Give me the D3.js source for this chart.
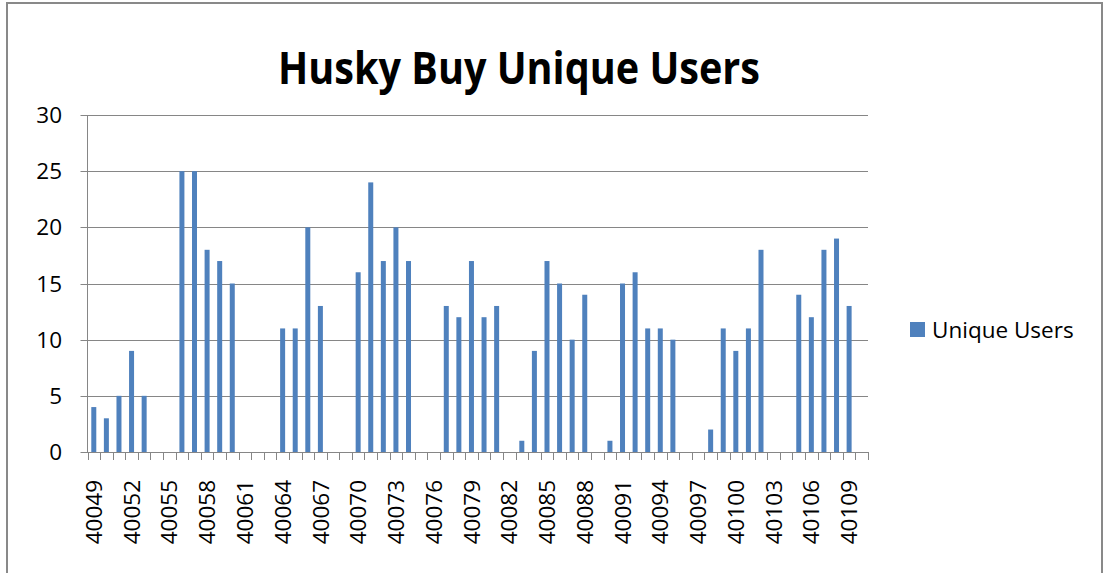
<!DOCTYPE html>
<html>
<head>
<meta charset="utf-8">
<script src="https://cdn.jsdelivr.net/npm/d3@7"></script>
<style>
  body { margin: 0; background: #fff; }
  svg { display: block; font-family: "Open Sans", sans-serif; }
</style>
</head>
<body>
<svg id="chart" width="1104" height="573"></svg>
<script>
// day numbers shown on the x axis (40049 .. 40110)
const days = d3.range(40049, 40111);

// unique users per day
const users = [
  4, 3, 5, 9, 5, 0, 0, 25, 25, 18,
  17, 15, 0, 0, 0, 11, 11, 20, 13, 0,
  0, 16, 24, 17, 20, 17, 0, 0, 13, 12,
  17, 12, 13, 0, 1, 9, 17, 15, 10, 14,
  0, 1, 15, 16, 11, 11, 10, 0, 0, 2,
  11, 9, 11, 18, 0, 0, 14, 12, 18, 19,
  13, 0
];

const yTicks = [0, 5, 10, 15, 20, 25, 30];
const seriesName = 'Unique Users';
const title = 'Husky Buy Unique Users';

const svg = d3.select('#chart');
const margin = {left: 87.5, right: 868, top: 115, bottom: 452};
const axisColor = '#868686';
const barColor = '#4f81bd';
const labelSize = 22.5;

// outer chart frame
svg.append('rect')
  .attr('x', 7).attr('y', 3)
  .attr('width', 1095).attr('height', 600)
  .attr('fill', 'none')
  .attr('stroke', '#898989')
  .attr('stroke-width', 2);

let xBand = d3.scaleBand()
  .domain(days)
  .range([margin.left, margin.right]);

let y = d3.scaleLinear()
  .domain([0, 30])
  .range([margin.bottom, margin.top]);

// gridlines
svg.append('g')
  .selectAll('line')
  .data(yTicks)
  .join('line')
  .attr('x1', margin.left - 7)
  .attr('x2', margin.right)
  .attr('y1', d => Math.round(y(d)) + 0.5)
  .attr('y2', d => Math.round(y(d)) + 0.5)
  .attr('stroke', axisColor)
  .attr('stroke-width', 1);

// y labels
svg.append('g')
  .selectAll('text')
  .data(yTicks)
  .join('text')
  .attr('x', 62)
  .attr('y', d => y(d))
  .attr('dy', '0.36em')
  .attr('text-anchor', 'end')
  .attr('font-size', labelSize)
  .attr('fill', '#000')
  .text(d => d);

// bars
svg.append('g')
  .selectAll('rect')
  .data(users)
  .join('rect')
  .attr('x', (d, i) => xBand(days[i]) + xBand.bandwidth() / 2 - 2.5)
  .attr('y', d => y(d))
  .attr('width', 5)
  .attr('height', d => y(0) - y(d))
  .attr('fill', barColor);

// y axis line
svg.append('line')
  .attr('x1', margin.left).attr('x2', margin.left)
  .attr('y1', margin.top).attr('y2', margin.bottom)
  .attr('stroke', axisColor);

// x tick marks at category boundaries
const bounds = days.map(d => xBand(d)).concat([margin.right]);
svg.append('g')
  .selectAll('line')
  .data(bounds)
  .join('line')
  .attr('x1', d => Math.round(d) + 0.5)
  .attr('x2', d => Math.round(d) + 0.5)
  .attr('y1', Math.round(y(0)))
  .attr('y2', Math.round(y(0)) + 8)
  .attr('stroke', axisColor);

// x labels, every third day
svg.append('g')
  .selectAll('text')
  .data(days.filter((d, i) => i % 3 === 0))
  .join('text')
  .attr('transform', d => `translate(${xBand(d) + xBand.bandwidth() / 2},480) rotate(-90)`)
  .attr('dy', '0.36em')
  .attr('text-anchor', 'end')
  .attr('font-size', labelSize)
  .attr('fill', '#000')
  .text(d => d);

// title
svg.append('text')
  .attr('x', 519)
  .attr('y', 84)
  .attr('text-anchor', 'middle')
  .attr('font-size', 44)
  .attr('font-weight', 'bold')
  .attr('textLength', 482)
  .attr('lengthAdjust', 'spacingAndGlyphs')
  .text(title);

// legend
const legend = svg.append('g').attr('transform', 'translate(910,322)');
legend.append('rect')
  .attr('width', 15).attr('height', 15)
  .attr('fill', barColor);
legend.append('text')
  .attr('x', 22)
  .attr('y', 7.5)
  .attr('dy', '0.36em')
  .attr('font-size', labelSize)
  .text(seriesName);
</script>
</body>
</html>
